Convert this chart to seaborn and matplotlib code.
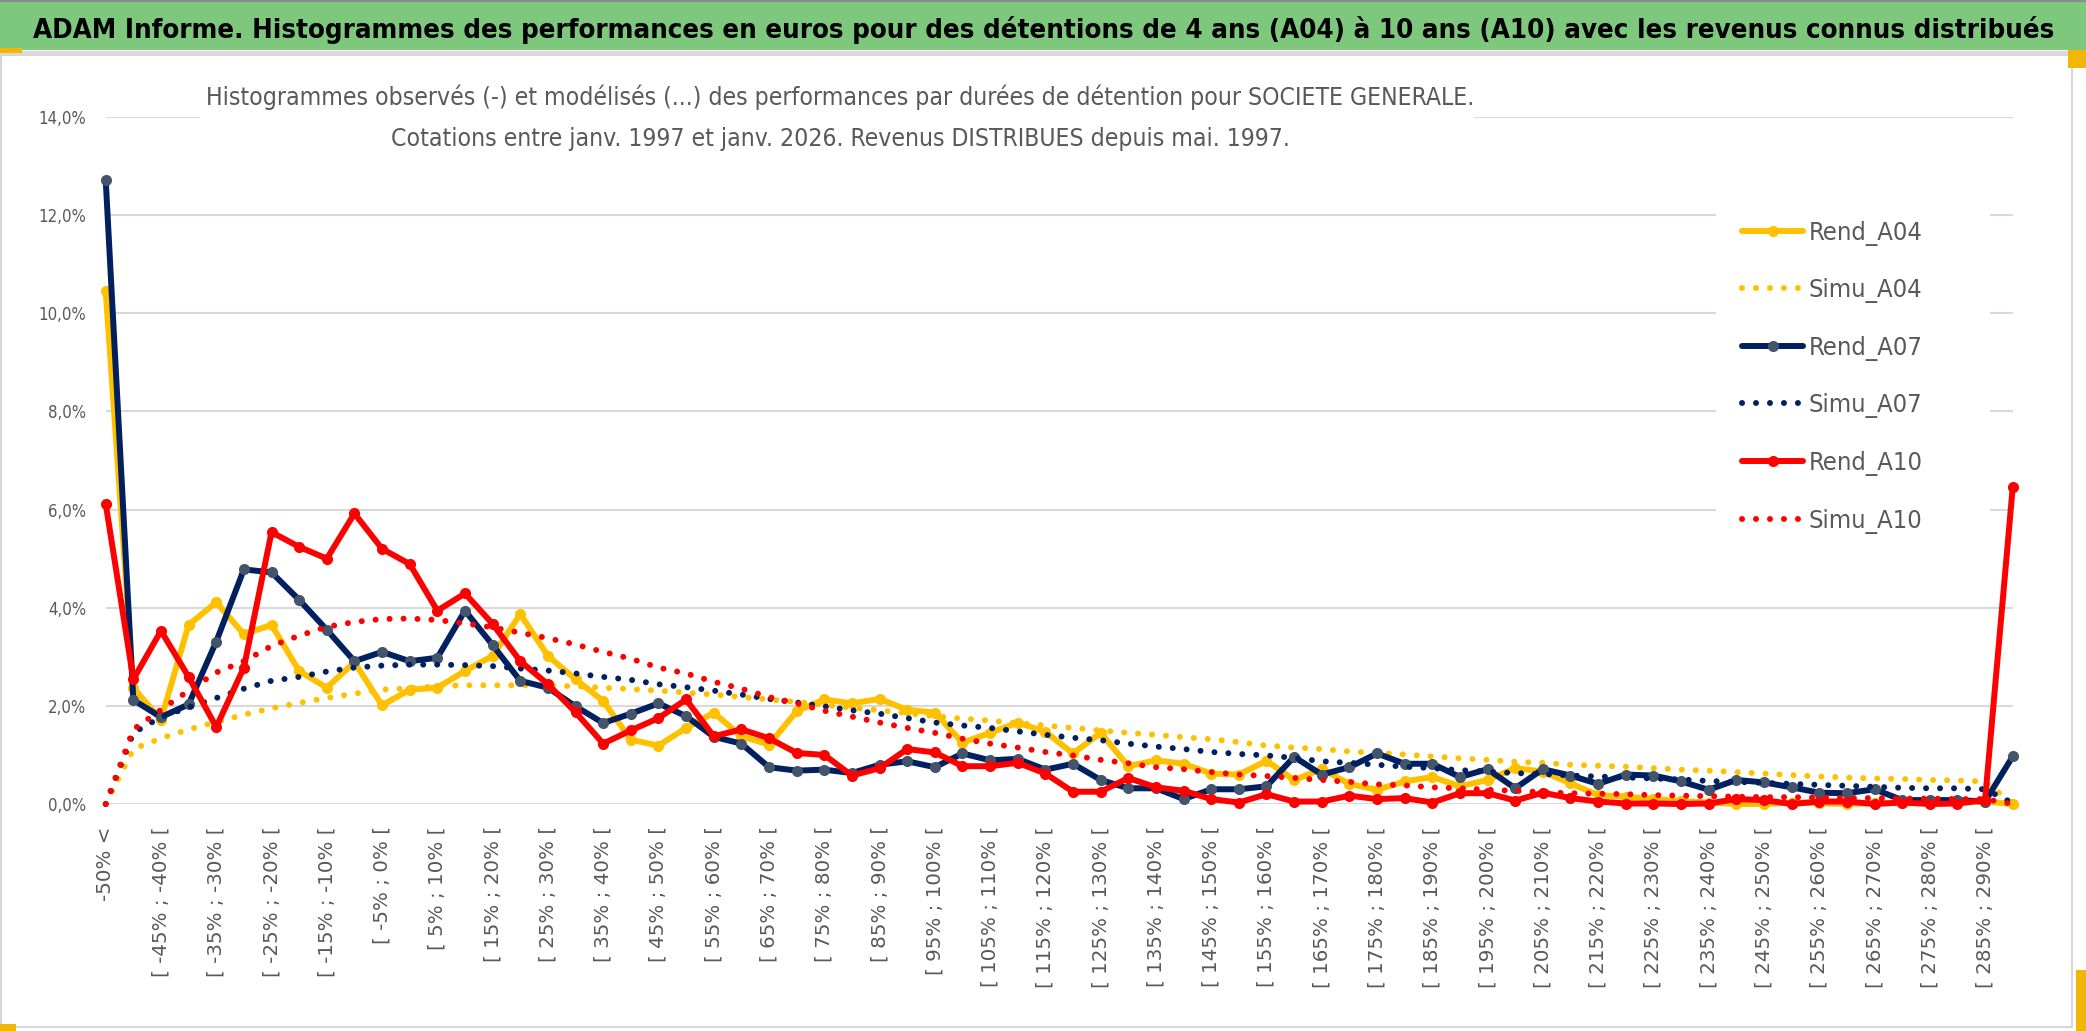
import numpy as np
import pandas as pd
import matplotlib
matplotlib.use("Agg")
import matplotlib.pyplot as plt
import seaborn as sns
from matplotlib import font_manager as fm
from matplotlib.font_manager import FontProperties
from matplotlib.patches import Rectangle
from matplotlib.ticker import FixedLocator, FuncFormatter

# ---------------- data (values in %) ----------------
bin_lows = list(range(-50, 295, 5))          # lower bounds of the 5% bins
categories = ["-50% <"] + [f"[ {lo}% ; {lo + 5}% [" for lo in bin_lows[:-1]] + ["> 290%"]

rend_a04 = [10.45, 2.37, 1.72, 3.65, 4.11, 3.46, 3.65, 2.71, 2.37, 2.89,
            2.01, 2.33, 2.37, 2.71, 3.02, 3.87, 3.02, 2.54, 2.10, 1.31,
            1.19, 1.55, 1.86, 1.38, 1.21, 1.89, 2.13, 2.05, 2.14, 1.92,
            1.86, 1.25, 1.45, 1.66, 1.47, 1.03, 1.45, 0.77, 0.89, 0.82,
            0.62, 0.60, 0.88, 0.49, 0.71, 0.41, 0.29, 0.46, 0.55, 0.36,
            0.49, 0.73, 0.66, 0.42, 0.18, 0.15, 0.10, 0.06, 0.03, 0.00,
            0.00, 0.03, 0.02, 0.00, 0.02, 0.03, 0.02, 0.03, 0.05, 0.00]
simu_a04 = [0.00, 1.12, 1.34, 1.52, 1.67, 1.82, 1.95, 2.06, 2.16, 2.25,
            2.33, 2.36, 2.40, 2.42, 2.42, 2.42, 2.41, 2.40, 2.37, 2.34,
            2.31, 2.27, 2.23, 2.18, 2.13, 2.08, 2.02, 1.96, 1.91, 1.85,
            1.79, 1.74, 1.70, 1.65, 1.60, 1.55, 1.50, 1.45, 1.41, 1.36,
            1.32, 1.26, 1.19, 1.15, 1.12, 1.07, 1.04, 1.01, 0.97, 0.93,
            0.90, 0.86, 0.84, 0.80, 0.78, 0.76, 0.73, 0.70, 0.68, 0.65,
            0.62, 0.59, 0.56, 0.54, 0.52, 0.51, 0.49, 0.48, 0.46, 0.00]
rend_a07 = [12.72, 2.12, 1.77, 2.03, 3.31, 4.78, 4.72, 4.16, 3.55, 2.91,
            3.10, 2.91, 2.98, 3.94, 3.24, 2.51, 2.37, 1.99, 1.65, 1.84,
            2.05, 1.79, 1.37, 1.23, 0.75, 0.68, 0.70, 0.63, 0.80, 0.87,
            0.75, 1.03, 0.89, 0.92, 0.70, 0.82, 0.49, 0.32, 0.32, 0.10,
            0.30, 0.30, 0.36, 0.96, 0.60, 0.75, 1.03, 0.82, 0.82, 0.55,
            0.71, 0.32, 0.71, 0.58, 0.41, 0.60, 0.58, 0.46, 0.29, 0.49,
            0.44, 0.34, 0.23, 0.22, 0.30, 0.08, 0.08, 0.08, 0.05, 0.97]
simu_a07 = [0.00, 1.45, 1.77, 1.97, 2.16, 2.35, 2.51, 2.59, 2.70, 2.78,
            2.82, 2.84, 2.84, 2.83, 2.81, 2.76, 2.72, 2.66, 2.59, 2.53,
            2.44, 2.38, 2.31, 2.23, 2.14, 2.07, 1.99, 1.91, 1.84, 1.75,
            1.66, 1.60, 1.55, 1.48, 1.41, 1.35, 1.30, 1.23, 1.17, 1.12,
            1.06, 1.02, 0.99, 0.94, 0.87, 0.84, 0.80, 0.76, 0.73, 0.69,
            0.66, 0.63, 0.61, 0.58, 0.56, 0.54, 0.52, 0.50, 0.47, 0.45,
            0.43, 0.41, 0.39, 0.37, 0.35, 0.33, 0.32, 0.32, 0.30, 0.02]
rend_a10 = [6.12, 2.54, 3.53, 2.59, 1.57, 2.78, 5.54, 5.24, 5.00, 5.92,
            5.20, 4.89, 3.94, 4.29, 3.67, 2.91, 2.44, 1.87, 1.23, 1.50,
            1.75, 2.13, 1.38, 1.52, 1.34, 1.04, 1.00, 0.58, 0.73, 1.12,
            1.05, 0.77, 0.77, 0.84, 0.62, 0.25, 0.25, 0.53, 0.34, 0.27,
            0.10, 0.03, 0.20, 0.05, 0.05, 0.17, 0.10, 0.12, 0.03, 0.22,
            0.22, 0.07, 0.23, 0.12, 0.05, 0.01, 0.01, 0.00, 0.01, 0.10,
            0.08, 0.00, 0.05, 0.05, 0.00, 0.03, 0.00, 0.01, 0.08, 6.45]
simu_a10 = [0.00, 1.52, 1.92, 2.31, 2.68, 2.91, 3.22, 3.43, 3.61, 3.71,
            3.77, 3.78, 3.75, 3.68, 3.60, 3.49, 3.38, 3.25, 3.10, 2.96,
            2.78, 2.66, 2.49, 2.35, 2.18, 2.05, 1.90, 1.78, 1.66, 1.55,
            1.45, 1.33, 1.23, 1.15, 1.06, 0.99, 0.90, 0.83, 0.75, 0.71,
            0.65, 0.60, 0.57, 0.53, 0.49, 0.45, 0.40, 0.38, 0.34, 0.32,
            0.29, 0.27, 0.24, 0.22, 0.21, 0.20, 0.18, 0.17, 0.16, 0.15,
            0.14, 0.14, 0.13, 0.12, 0.12, 0.11, 0.11, 0.10, 0.10, 0.00]

series_names = ["Rend_A04", "Simu_A04", "Rend_A07", "Simu_A07", "Rend_A10", "Simu_A10"]
series_values = [rend_a04, simu_a04, rend_a07, simu_a07, rend_a10, simu_a10]
y_ticks = [0, 2, 4, 6, 8, 10, 12, 14]

title = ("ADAM Informe. Histogrammes des performances en euros pour des détentions "
         "de 4 ans (A04) à 10 ans (A10) avec les revenus connus distribués")
subtitle1 = ("Histogrammes observés (-) et modélisés (...) des performances par durées "
             "de détention pour SOCIETE GENERALE.")
subtitle2 = "Cotations entre janv. 1997 et janv. 2026. Revenus DISTRIBUES depuis mai. 1997."

# ---------------- styles ----------------
line_colors = {"A04": "#FFC000", "A07": "#002060", "A10": "#FF0000"}
marker_colors = {"A04": "#FFC000", "A07": "#44546A", "A10": "#FF0000"}
GRID = "#D9D9D9"
TXT = "#595959"

sns.set_theme(style="white")
plt.rcParams["font.family"] = ["DejaVu Sans"]

_names = {f.name for f in fm.fontManager.ttflist}
if "Liberation Sans Narrow" in _names:
    def narrow(size, weight="normal"):
        return FontProperties(family=["Liberation Sans Narrow", "DejaVu Sans"], size=size, weight=weight)
else:
    def narrow(size, weight="normal"):
        return FontProperties(family=["DejaVu Sans"], stretch="condensed", size=size, weight=weight)

W, H = 2086, 1031
fig = plt.figure(figsize=(W / 100, H / 100), dpi=100)
fig.patch.set_facecolor("white")


def fx(px):
    return px / W


def fy(py):
    return 1 - py / H


def text_width(s, fp):
    t = fig.text(0, 0, s, fontproperties=fp)
    fig.canvas.draw()
    w = t.get_window_extent(fig.canvas.get_renderer()).width
    t.remove()
    return w


# font sizes fitted to the reference text widths
LEG_FS = 21 * 114 / text_width("Rend_A04", narrow(21))
YT_FS = 14.5 * 48 / text_width("14,0%", narrow(14.5))

# banner and frame
fig.patches.append(Rectangle((0, fy(50)), 1, 50 / H, transform=fig.transFigure,
                             facecolor="#7DC87D", edgecolor="none", zorder=0))
fig.patches.append(Rectangle((0, fy(1.5)), 1, 1.5 / H, transform=fig.transFigure,
                             facecolor="#8C8C8C", edgecolor="none", zorder=0))
fig.patches.append(Rectangle((0, fy(54)), 1, 3 / H, transform=fig.transFigure,
                             facecolor="#DADADA", edgecolor="none", zorder=0))
fig.patches.append(Rectangle((fx(1), fy(1027)), fx(2072) - fx(1), (1027 - 55) / H,
                             transform=fig.transFigure, facecolor="none",
                             edgecolor="#D0D0D0", lw=1.2, zorder=0))
for (x0, y0, x1, y1) in [(0, 48, 22, 53), (2068, 50, 2086, 68), (2076, 970, 2086, 1031), (0, 1024, 16, 1031)]:
    fig.patches.append(Rectangle((fx(x0), fy(y1)), fx(x1) - fx(x0), (y1 - y0) / H,
                                 transform=fig.transFigure, facecolor="#F2B705",
                                 edgecolor="none", zorder=0.5))

ax = fig.add_axes([fx(105.7), fy(804), fx(2012.7) - fx(105.7), fy(117) - fy(804)])
ax.set_facecolor("none")

x = np.arange(len(categories))
df = pd.DataFrame({"idx": x})
for n, v in zip(series_names, series_values):
    df[n] = v

for z, name in enumerate(series_names):
    key = name.split("_")[1]
    if name.startswith("Rend"):
        sns.lineplot(data=df, x="idx", y=name, ax=ax, color=line_colors[key], lw=4.3,
                     marker="o", markersize=8, markerfacecolor=marker_colors[key],
                     markeredgewidth=0, solid_joinstyle="round", solid_capstyle="round",
                     label=name, clip_on=False, zorder=3 + z, estimator=None,
                     sort=False, legend=False)
    else:
        sns.lineplot(data=df, x="idx", y=name, ax=ax, color=line_colors[key], lw=4.3,
                     linestyle=(0, (0.01, 2.33)), dash_capstyle="round",
                     label=name, clip_on=False, zorder=3 + z, estimator=None,
                     sort=False, legend=False)

ax.set_xlim(0, len(categories) - 1)
ax.set_ylim(0, 14)
ax.set_xlabel("")
ax.set_ylabel("")
for s in ax.spines.values():
    s.set_visible(False)

ax.set_xticks(x[::2])
ax.set_xticklabels([categories[i] for i in x[::2]], rotation=90, fontsize=14.3,
                   color=TXT, family="DejaVu Sans")
ax.xaxis.set_minor_locator(FixedLocator(x[::4]))
ax.tick_params(axis="x", which="major", length=0, pad=16)
ax.tick_params(axis="x", which="minor", length=6.5, width=1.5, color=GRID, bottom=True)
ax.yaxis.set_major_locator(FixedLocator(y_ticks))
ax.yaxis.set_major_formatter(FuncFormatter(lambda v, p: f"{v:.1f}%".replace(".", ",")))
ax.tick_params(axis="y", which="major", length=0, pad=14)
for lab in ax.get_yticklabels():
    lab.set_fontproperties(narrow(YT_FS))
    lab.set_color(TXT)
ax.grid(False)
ax.set_axisbelow(True)
ax.grid(which="minor", axis="x", color=GRID, lw=1.5)
ax.grid(which="major", axis="y", color=GRID, lw=1.5)

# white legend background (covers gridlines)
ax.add_patch(Rectangle((fx(1716), fy(548)), fx(1990) - fx(1716), (548 - 200) / H,
                       transform=fig.transFigure, facecolor="white", edgecolor="none",
                       zorder=1.5, clip_on=False))
handles = ax.get_lines()[:6]
fs_px = LEG_FS * 100 / 72


def make_legend(ls, top):
    lg = ax.legend(handles=handles, labels=series_names, loc="upper left",
                   bbox_to_anchor=(fx(1742), fy(top)), bbox_transform=fig.transFigure,
                   frameon=False, prop=narrow(LEG_FS), labelcolor=TXT,
                   handlelength=61 / fs_px, handletextpad=6 / fs_px, labelspacing=ls,
                   borderpad=0, borderaxespad=0)
    lg.set_zorder(20)
    return lg


def label_centers(lg):
    fig.canvas.draw()
    rr = fig.canvas.get_renderer()
    out = []
    for t in lg.get_texts():
        bb = t.get_window_extent(rr)
        out.append(H - (bb.y0 + bb.y1) / 2)
    return out


ls = 1.0
top = 215
leg = make_legend(ls, top)
c = label_centers(leg)
d = (c[-1] - c[0]) / 5
ls = ls + (57.6 - d) / fs_px
leg.remove()
leg = make_legend(ls, top)
c = label_centers(leg)
top = top + (233 - c[0])
leg.remove()
leg = make_legend(ls, top)

# subtitle white box
fig.patches.append(Rectangle((fx(200), fy(159)), fx(1474) - fx(200), (159 - 58) / H,
                             transform=fig.transFigure, facecolor="white",
                             edgecolor="none", zorder=2))

t_title = fig.text(fx(33), fy(38), title, fontproperties=narrow(23, "bold"),
                   color="black", ha="left", va="baseline", zorder=5)
t_sub1 = fig.text(fx(840), fy(105), subtitle1, fontproperties=narrow(18),
                  color=TXT, ha="center", va="baseline", zorder=5)
t_sub2 = fig.text(fx(840), fy(146), subtitle2, fontproperties=narrow(18),
                  color=TXT, ha="center", va="baseline", zorder=5)

fig.canvas.draw()
r = fig.canvas.get_renderer()
w_t = t_title.get_window_extent(r).width
t_title.set_fontsize(t_title.get_fontsize() * 2022 / w_t)
w_s = t_sub1.get_window_extent(r).width
k = 1267 / w_s
t_sub1.set_fontsize(t_sub1.get_fontsize() * k)
t_sub2.set_fontsize(t_sub2.get_fontsize() * k)

fig.savefig("out.png", dpi=100, facecolor="white")
